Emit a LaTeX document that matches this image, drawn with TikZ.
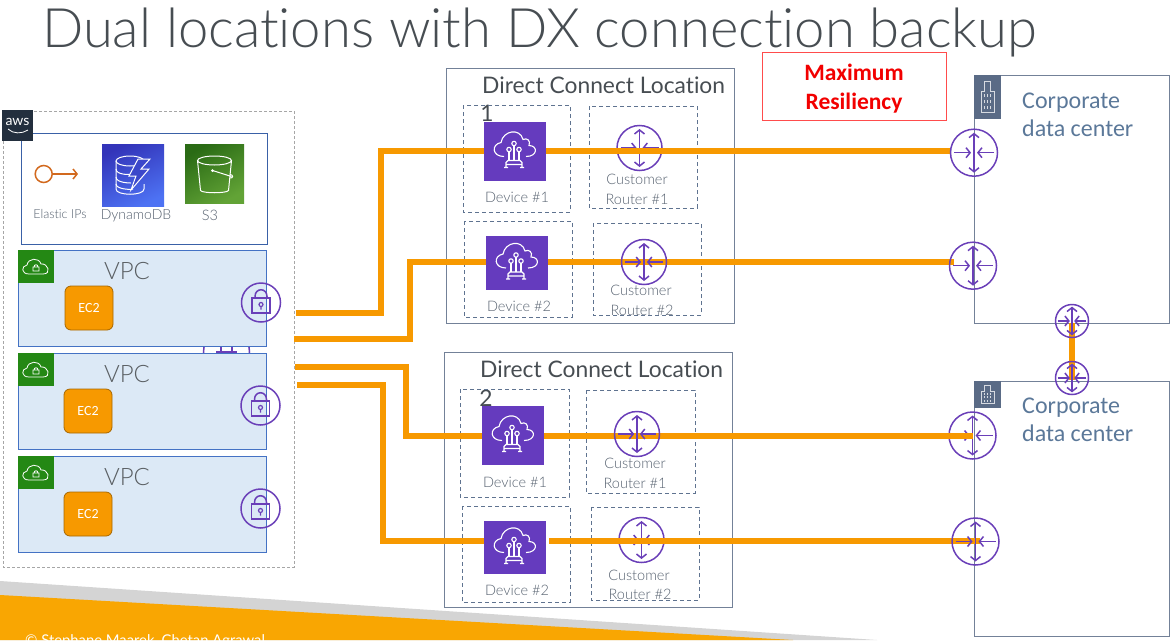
\documentclass[tikz,border=0pt]{standalone}
\usepackage{fontspec}
\setmainfont{Carlito}
\newfontfamily\lightfont[Ligatures=NoCommon]{Lato Light}
\newfontfamily\latofont[Ligatures=NoCommon]{Lato}
\usetikzlibrary{arrows.meta}
\pgfdeclarelayer{over}
\pgfsetlayers{main,over}
\definecolor{dxorange}{HTML}{F79900}
\definecolor{footorange}{HTML}{F9A602}
\definecolor{purp}{HTML}{6A3FB8}
\definecolor{devpurp}{HTML}{653BBE}
\definecolor{slateblue}{HTML}{5A6B86}
\definecolor{dashblue}{HTML}{5F7390}
\definecolor{vpcfill}{HTML}{DCE9F6}
\definecolor{vpcedge}{HTML}{4472C4}
\definecolor{tagreen}{HTML}{248814}
\definecolor{labelgrey}{HTML}{56616F}
\definecolor{darktext}{HTML}{474D52}
\definecolor{corptext}{HTML}{5B7899}
\definecolor{awsnavy}{HTML}{232F3E}
\definecolor{eipcolor}{HTML}{D2691E}
\definecolor{dynlow}{HTML}{3334B9}
\definecolor{dynhigh}{HTML}{4D72F3}
\definecolor{bucklow}{HTML}{2A6B15}
\definecolor{buckhigh}{HTML}{62A336}
\tikzset{
  dxline/.style={draw=dxorange,line width=6pt,line cap=butt,line join=miter},
  locbox/.style={draw=slateblue!85,line width=1pt},
  dashbox/.style={draw=dashblue,line width=1pt,dash pattern=on 4pt off 3pt},
  devbox/.style={fill=devpurp,minimum width=62pt,minimum height=59pt,inner sep=0pt},
  router/.style={circle,draw=purp,line width=1.5pt,minimum size=#1,inner sep=0pt},
  router/.default=45pt,
  lockring/.style={circle,draw=purp,line width=1.5pt,minimum size=39pt,inner sep=0pt},
  vpcbox/.style={draw=vpcedge,fill=vpcfill,line width=1pt},
  vpctag/.style={fill=tagreen,minimum width=36pt,minimum height=33pt,inner sep=0pt},
  ecbox/.style={draw=black!10!dxorange!75!black,fill=dxorange,rounded corners=6pt,line width=.8pt,
    minimum width=48pt,minimum height=44pt,inner sep=0pt,text=white,font=\fontsize{14}{14}\selectfont},
  smalltext/.style={text=labelgrey,font=\lightfont\fontsize{14.5}{14.5}\selectfont,inner sep=0pt},
  loctitle/.style={text=darktext,font=\latofont\fontsize{22.8}{24}\selectfont,inner sep=0pt},
  vpctext/.style={text=darktext!90,font=\lightfont\fontsize{24}{24}\selectfont,inner sep=0pt},
  corptxt/.style={text=corptext,font=\fontsize{24}{28}\selectfont,inner sep=0pt,align=left,anchor=north west},
  pics/routerarrows/.style={code={
    \draw[purp,line width=1.5pt,{Straight Barb[length=4pt,width=10pt]}-{Straight Barb[length=4pt,width=10pt]}] (0,-20) -- (0,20);
    \draw[purp,line width=1.5pt,-{Straight Barb[length=4pt,width=10pt]}] (-20,0) -- (-3,0);
    \draw[purp,line width=1.5pt,-{Straight Barb[length=4pt,width=10pt]}] (20,0) -- (3,0);
  }},
  pics/deviceicon/.style={code={
    \draw[white,line width=1.1pt] (-11,5) .. controls (-23,5) and (-24,-7) .. (-14,-9) .. controls (-12,-21) and (5,-24) .. (8,-12) .. controls (12,-14) and (16,-11) .. (14,-6) .. controls (23,-6) and (23,5) .. (11,5);
    \draw[white,line width=1.1pt] (-6,-2) circle (2.2) (4,-2) circle (2.2) (-1,-8) circle (2.2);
    \draw[white,line width=1.1pt] (-6,0) -- (-6,9) (4,0) -- (4,9) (-1,-6) -- (-1,9);
    \draw[white,line width=1.1pt] (-9,16) -- (-9,11) -- (-7,9) -- (5,9) -- (7,11) -- (7,16) (-11,16) -- (-7,16) (5,16) -- (9,16) (-9,13) -- (7,13);
  }},
  pics/lockicon/.style={code={
    \draw[purp,line width=1.5pt] (-9,-4.5) rectangle (9,10.5);
    \draw[purp,line width=1.5pt] (-6,-4.5) -- (-6,-6) .. controls (-6,-15) and (6,-15) .. (6,-6) -- (6,-4.5);
    \draw[purp,line width=1.2pt] (0,2) circle (2) (0,4) -- (0,7);
  }},
  pics/cloudlock/.style={code={
    \draw[white,line width=.8pt] (-7,7) .. controls (-15,7) and (-15,-1) .. (-9,-2) .. controls (-8,-9) and (3,-10) .. (5,-3) .. controls (12,-4) and (16,7) .. (7,7) -- cycle;
    \draw[white,line width=.8pt] (-3,0) rectangle (3,4) (-2,0) .. controls (-2,-3) and (2,-3) .. (2,0);
  }},
  pics/buildingicon/.style={code={
    \draw[white!75!slateblue,line width=.8pt] (-6.5,15) -- (-6.5,-6) -- (-3,-6) -- (-3,-16) -- (3,-16) -- (3,-6) -- (6.5,-6) -- (6.5,15) -- cycle;
    \foreach \bx in {-3,0,3} \foreach \by in {-3,3,9} \fill[white!75!slateblue] (\bx-.4,\by) rectangle (\bx+.4,\by+3);
  }}
}
\begin{document}
\begin{tikzpicture}[x=1pt,y=-1pt,line cap=butt,line join=miter]
\clip (0,0) rectangle (1174,640);
% footer band
\fill[black!17] (0,581) -- (877,640) -- (0,640) -- cycle;
\fill[footorange] (0,595) -- (793,640) -- (0,640) -- cycle;
\node[anchor=base west,inner sep=0pt,text=white,font=\fontsize{14.8}{14.8}\selectfont\latofont] (footerText) at (25,645) {© Stephane Maarek, Chetan Agrawal};
% title
\node[anchor=base west,inner sep=0pt,text=darktext,font=\lightfont\fontsize{54.4}{54.4}\selectfont] (titleText) at (42,47) {Dual locations with DX connection backup};
% aws region
\draw[draw=black!35,line width=1pt,dash pattern=on 3pt off 2pt] (3,111) rectangle (294,567);
\draw[draw=vpcedge!85!black,line width=1pt,fill=white] (21,133) rectangle (267,244);
\node[fill=awsnavy,minimum size=31pt,inner sep=0pt] (awsTag) at (17.5,125.5) {};
\node[text=white,font=\latofont\fontsize{14}{14}\selectfont,inner sep=0pt] (awsText) at (17.5,122) {aws};
\draw[white,line width=.8pt] (8,129) .. controls (13,134) and (22,134) .. (28,130);
% elastic ip
\node[circle,draw=eipcolor,line width=1.5pt,minimum size=17pt,inner sep=0pt] (eipRing) at (43.7,174) {};
\coordinate (eipEnd) at (78,174);
\draw[draw=eipcolor,line width=1.5pt,-{Straight Barb[length=4pt,width=10pt]}] (eipRing) -- (eipEnd);
\node[smalltext,font=\lightfont\fontsize{12.5}{12.5}\selectfont] (eipText) at (60,214) {Elastic IPs};
% dynamodb
\node[shade,shading=axis,left color=dynlow,right color=dynhigh,shading angle=25,minimum size=62pt,inner sep=0pt] (dynamoBox) at (133,175) {};
\begin{scope}[shift={(dynamoBox.center)},white,line width=1pt]
  \draw (-3,-14) ellipse (14 and 5);
  \draw (-17,-14) -- (-17,14) .. controls (-17,21) and (11,21) .. (11,14) -- (11,9);
  \draw (-17,-6) .. controls (-17,0) and (-3,0) .. (0,-1);
  \draw (-17,2) .. controls (-17,8) and (-3,8) .. (-2,8);
  \draw (-17,9) .. controls (-17,14) and (-3,15) .. (0,14);
  \draw[fill=dynlow!70!dynhigh] (5,-16) -- (-4,1) -- (3,1) -- (-2,15) -- (16,-6) -- (8,-6) -- (17,-16) -- cycle;
\end{scope}
\node[smalltext,font=\lightfont\fontsize{14}{14}\selectfont] (dynamoText) at (136,216) {DynamoDB};
% s3
\node[shade,shading=axis,left color=bucklow,right color=buckhigh,shading angle=30,minimum size=59pt,inner sep=0pt] (bucketBox) at (214.5,173.5) {};
\begin{scope}[shift={(bucketBox.center)},white,line width=1pt]
  \draw (0,-13) ellipse (17 and 4.5);
  \draw (-17,-13) -- (-14,17) .. controls (-12,20) and (12,20) .. (14,17) -- (17,-13);
  \draw (-2,-3) -- (17,3);
  \fill (-2,-3) circle (1.5);
  \draw (15.5,1) .. controls (19,1) and (19,5) .. (15.5,4.5);
\end{scope}
\node[smalltext] (bucketText) at (210,215) {S3};
% gateway mostly behind the vpcs
\node[circle,draw=purp,line width=1.5pt,minimum size=46pt,inner sep=0pt] (gatewayRing) at (226.5,352) {};
\draw[purp,line width=1.5pt] (216,352) -- (237,352) (221,346) -- (221,352) (232,346) -- (232,352);
% vpc boxes
\foreach \vy/\vn in {250/1,353/2,456/3}{
  \draw[vpcbox] (18,\vy) rectangle (266,\vy+96);
  \node[vpctag,anchor=north west] (vpcTag\vn) at (18,\vy) {};
  \pic at (36,\vy+17) {cloudlock};
  \node[vpctext] (vpcText\vn) at (127,\vy+21) {VPC};
}
\node[ecbox] (ecA) at (89,308) {EC2};
\node[ecbox] (ecB) at (88,411) {EC2};
\node[ecbox] (ecC) at (88,514) {EC2};
\node[lockring] (lockA) at (261,302.5) {};
\node[lockring] (lockB) at (260.5,405.5) {};
\node[lockring] (lockC) at (260.5,508.5) {};
\pic at (lockA) {lockicon};
\pic at (lockB) {lockicon};
\pic at (lockC) {lockicon};
% direct connect location 1
\draw[locbox] (446,68) rectangle (734,323);
\node[loctitle,anchor=west] (locTitleA) at (482,85) {Direct Connect Location};
\node[loctitle] (locNumA) at (487,113) {1};
\draw[dashbox] (463,105) rectangle (570,212);
\draw[dashbox] (589,106) rectangle (697,208);
\draw[dashbox] (464,221) rectangle (572,317);
\draw[dashbox] (593,223) rectangle (701,315);
\node[smalltext] (devTextA) at (517,197) {Device \#1};
\node[smalltext] (rtTextA) at (637,179) {Customer};
\node[smalltext] (rtTextAb) at (637,199) {Router \#1};
\node[smalltext] (devTextB) at (519,306) {Device \#2};
\node[smalltext] (rtTextB) at (641,290) {Customer};
\node[smalltext] (rtTextBb) at (642,310) {Router \#2};
% direct connect location 2
\draw[locbox] (444,352) rectangle (732,607);
\node[loctitle,anchor=west] (locTitleB) at (480,369) {Direct Connect Location};
\node[loctitle] (locNumB) at (486,398) {2};
\draw[dashbox] (460,389) rectangle (569,497);
\draw[dashbox] (586,390) rectangle (695,493);
\draw[dashbox] (462,506) rectangle (570,602);
\draw[dashbox] (591,507) rectangle (699,600);
\node[smalltext] (devTextC) at (515,482) {Device \#1};
\node[smalltext] (rtTextC) at (635,463) {Customer};
\node[smalltext] (rtTextCb) at (635,483) {Router \#1};
\node[smalltext] (devTextD) at (517,590) {Device \#2};
\node[smalltext] (rtTextD) at (639,575) {Customer};
\node[smalltext] (rtTextDb) at (640,594) {Router \#2};
% corporate data centers
\draw[locbox] (974,75) rectangle (1169,323);
\draw[locbox] (974,381) rectangle (1169,636);
\node[fill=slateblue,anchor=north west,minimum width=27pt,minimum height=44pt,inner sep=0pt] (corpTagA) at (974,75) {};
\node[fill=slateblue,anchor=north west,minimum width=27pt,minimum height=27pt,inner sep=0pt] (corpTagB) at (974,381) {};
\pic at (987.5,97) {buildingicon};
\pic[yscale=.6] at (987.5,394.5) {buildingicon};
\node[corptxt] (corpTextA) at (1022,93) {Corporate\\data center};
\node[corptxt] (corpTextB) at (1022,398) {Corporate\\data center};
% max resiliency
\node[draw=red!70!white,line width=1pt,fill=white,minimum width=184pt,minimum height=68pt,inner sep=0pt] (maxBox) at (854,86) {};
\node[inner sep=0pt,align=center,text=red!95!black,font=\bfseries\fontsize{23.5}{29}\selectfont] (maxText) at (854,88.5) {Maximum\\Resiliency};
% routers under the orange lines
\node[router] (rtA) at (639.5,148) {};
\node[router] (rtD) at (641.5,540) {};
\node[router=47pt] (corpC) at (972.5,435.5) {};
\pic[scale=.95] at (rtA) {routerarrows};
\pic[scale=.95] at (rtD) {routerarrows};
\pic at (corpC) {routerarrows};
% routers and devices over the orange lines
\begin{pgfonlayer}{over}
\node[devbox] (devA) at (515,151.5) {};
\node[devbox,minimum height=54pt] (devB) at (517,263) {};
\node[devbox] (devC) at (513,435.5) {};
\node[devbox,minimum height=53pt] (devD) at (515,547.5) {};
\pic at (devA) {deviceicon};
\pic at (devB) {deviceicon};
\pic at (devC) {deviceicon};
\pic at (devD) {deviceicon};
\node[router] (rtB) at (644,262) {};
\node[router] (rtC) at (637,434) {};
\pic[scale=.95] at (rtB) {routerarrows};
\pic[scale=.95] at (rtC) {routerarrows};
\node[router=47pt] (corpA) at (974,152.7) {};
\node[router=47pt] (corpB) at (973,265.7) {};
\node[router=47pt] (corpD) at (975.5,541.5) {};
\pic at (corpA) {routerarrows};
\pic at (corpB) {routerarrows};
\pic at (corpD) {routerarrows};
\node[router=33pt] (linkA) at (1072,321) {};
\node[router=33pt] (linkB) at (1072,378) {};
\pic[scale=.72] at (linkA) {routerarrows};
\pic[scale=.72] at (linkB) {routerarrows};
\end{pgfonlayer}
% orange connectors
\coordinate (startA) at (296,313);
\coordinate (startB) at (294,339);
\coordinate (startC) at (295,366.5);
\coordinate (startD) at (297,385);
\coordinate (bendA) at (381,150.5);
\coordinate (bendB) at (410,262);
\coordinate (bendC) at (406,435.5);
\coordinate (bendD) at (383,541);
\draw[dxline] (startA) -| (bendA) -- (devA.west |- bendA);
\draw[dxline] (devA.east |- bendA) -- (corpA.west |- bendA);
\draw[dxline,shorten >=-5pt] (startB) -| (bendB) -- (corpB.west |- bendB);
\draw[dxline] (startC) -| (bendC) -- (corpC.center |- bendC);
\draw[dxline] (startD) -| (bendD) -- (devD.west |- bendD);
\draw[dxline,shorten <=3pt,shorten >=-4.5pt] (devD.east |- bendD) -- (corpD.center |- bendD);
\draw[dxline,shorten <=2pt,shorten >=-2pt] (linkA.center) -- (linkB.center);
\end{tikzpicture}
\end{document}
